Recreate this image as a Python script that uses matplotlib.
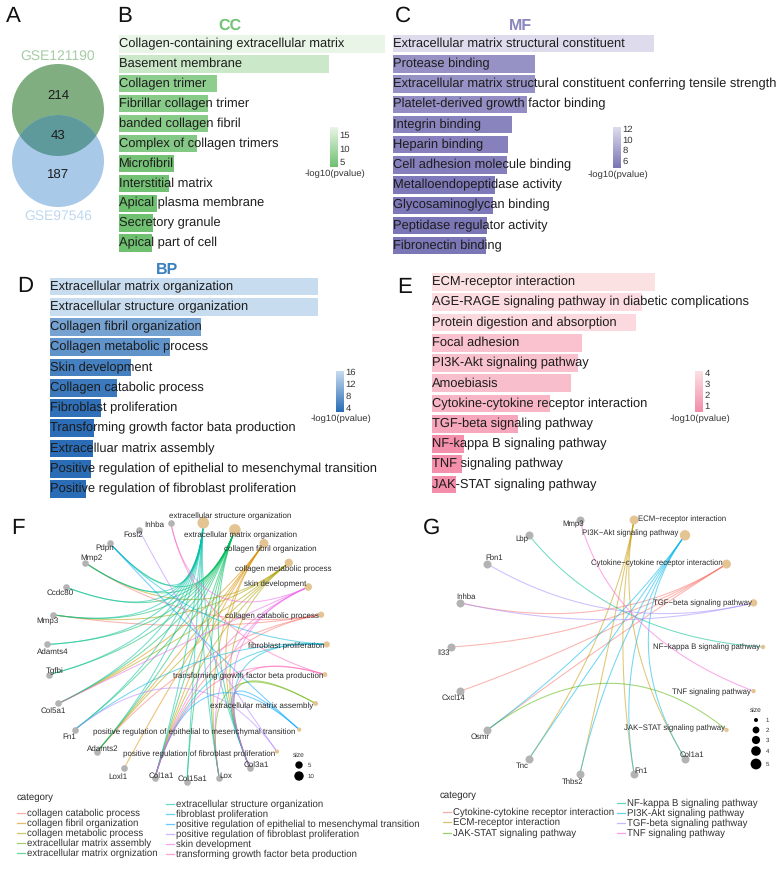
"""
Enrichment summary figure: venn, GO/KEGG bars and gene-term circular networks
"""

import numpy as np
import matplotlib
matplotlib.use('Agg')
import matplotlib.pyplot as plt
from matplotlib.colors import LinearSegmentedColormap, Normalize
from matplotlib.patches import Circle

plt.rcParams['font.family'] = ['Liberation Sans', 'DejaVu Sans']
plt.rcParams['text.hinting'] = 'no_hinting'

W, H = 782, 873

# Venn counts
VENN_NAMES = ['GSE121190', 'GSE97546']
VENN_COUNTS = [214, 43, 187]

# Bar panels
CC_TERMS = ['Collagen-containing extracellular matrix', 'Basement membrane', 'Collagen trimer',
            'Fibrillar collagen trimer', 'banded collagen fibril', 'Complex of collagen trimers',
            'Microfibril', 'Interstitial matrix', 'Apical plasma membrane', 'Secretory granule',
            'Apical part of cell']
CC_VALUES = [18.0, 14.2, 6.6, 6.0, 6.0, 5.3, 3.7, 3.4, 2.6, 2.3, 2.2]

MF_TERMS = ['Extracellular matrix structural constituent', 'Protease binding',
            'Extracellular matrix structural constituent conferring tensile strength',
            'Platelet-derived growth factor binding', 'Integrin binding', 'Heparin binding',
            'Cell adhesion molecule binding', 'Metalloendopeptidase activity',
            'Glycosaminoglycan binding', 'Peptidase regulator activity', 'Fibronectin binding']
MF_VALUES = [12.4, 6.75, 6.75, 6.37, 5.67, 5.46, 5.42, 4.87, 4.78, 4.48, 4.43]

BP_TERMS = ['Extracellular matrix organization', 'Extracellular structure organization',
            'Collagen fibril organization', 'Collagen metabolic process', 'Skin development',
            'Collagen catabolic process', 'Fibroblast proliferation',
            'Transforming growth factor bata production', 'Extracelluar matrix assembly',
            'Positive regulation of epithelial to mesenchymal transition',
            'Positive regulation of fibroblast proliferation']
BP_VALUES = [16.3, 16.3, 9.18, 7.28, 4.94, 4.07, 3.08, 2.66, 2.61, 2.51, 2.19]

KEGG_TERMS = ['ECM-receptor interaction', 'AGE-RAGE signaling pathway in diabetic complications',
              'Protein digestion and absorption', 'Focal adhesion', 'PI3K-Akt signaling pathway',
              'Amoebiasis', 'Cytokine-cytokine receptor interaction', 'TGF-beta signaling pathway',
              'NF-kappa B signaling pathway', 'TNF signaling pathway', 'JAK-STAT signaling pathway']
KEGG_VALUES = [4.2, 3.97, 3.85, 2.83, 2.75, 2.62, 2.23, 1.62, 0.61, 0.58, 0.45]

# Network F
F_TERMS = ['extracellular structure organization', 'extracellular matrix organization',
           'collagen fibril organization', 'collagen metabolic process', 'skin development',
           'collagen catabolic process', 'fibroblast proliferation',
           'transforming growth factor beta production', 'extracellular matrix assembly',
           'positive regulation of epithelial to mesenchymal transition',
           'positive regulation of fibroblast proliferation']
F_TERM_SIZES = [13, 13, 9, 8, 7, 5, 5, 3, 3, 2, 2]
F_GENES = ['Col3a1', 'Lox', 'Col15a1', 'Col1a1', 'Loxl1', 'Adamts2', 'Fn1', 'Col5a1', 'Tgfbi',
           'Adamts4', 'Mmp3', 'Ccdc80', 'Mmp2', 'Pdpn', 'Fosl2', 'Inhba']
F_STRUCTURE = ['Pdpn', 'Mmp2', 'Ccdc80', 'Mmp3', 'Adamts4', 'Tgfbi', 'Col5a1', 'Fn1', 'Adamts2',
               'Col1a1', 'Col15a1', 'Lox', 'Col3a1']
F_MATRIX = F_STRUCTURE
F_FIBRIL = ['Col5a1', 'Adamts2', 'Loxl1', 'Col1a1', 'Lox', 'Col3a1']
F_METABOLIC = ['Mmp2', 'Mmp3', 'Col5a1', 'Adamts2', 'Col1a1', 'Col3a1']
F_SKIN = ['Inhba', 'Col5a1', 'Col1a1', 'Lox', 'Col3a1']
F_CATABOLIC = ['Mmp2', 'Mmp3', 'Adamts2', 'Col1a1']
F_FIBROBLAST = ['Pdpn', 'Fn1', 'Col1a1', 'Col3a1']
F_TGFB = ['Inhba', 'Col1a1', 'Col3a1']
F_ASSEMBLY = ['Lox', 'Col3a1']
F_EMT = ['Pdpn', 'Col1a1', 'Col3a1']
F_POSFIB = ['Fosl2', 'Fn1']
F_LEGEND = ['collagen catabolic process', 'collagen fibril organization', 'collagen metabolic process',
            'extracellular matrix assembly', 'extracellular matrix orgnization',
            'extracellular structure organization', 'fibroblast proliferation',
            'positive regulation of epithelial to mesenchymal transition',
            'positive regulation of fibroblast proliferation', 'skin development',
            'transforming growth factor beta production']

# Network G
G_TERMS = ['ECM\u2212receptor interaction', 'PI3K\u2212Akt signaling pathway',
           'Cytokine\u2212cytokine receptor interaction', 'TGF\u2212beta signaling pathway',
           'NF\u2212kappa B signaling pathway', 'TNF signaling pathway', 'JAK\u2212STAT signaling pathway']
G_TERM_SIZES = [4, 5, 4, 3, 1, 1, 1]
G_GENES = ['Col1a1', 'Fn1', 'Thbs2', 'Tnc', 'Osmr', 'Cxcl14', 'Il33', 'Inhba', 'Fbn1', 'Lbp', 'Mmp3']
G_ECM = ['Tnc', 'Thbs2', 'Fn1', 'Col1a1']
G_PI3K = ['Osmr', 'Tnc', 'Thbs2', 'Fn1', 'Col1a1']
G_CYTOKINE = ['Inhba', 'Il33', 'Cxcl14', 'Osmr']
G_TGF = ['Inhba', 'Fbn1']
G_NFKB = ['Lbp']
G_TNF = ['Mmp3']
G_JAK = ['Osmr']
G_LEGEND = ['Cytokine-cytokine receptor interaction', 'ECM-receptor interaction',
            'JAK-STAT signaling pathway', 'NF-kappa B signaling pathway', 'PI3K-Akt signaling pathway',
            'TGF-beta signaling pathway', 'TNF signaling pathway']

# ggplot hue palettes, same order as the legends
F_COLORS = ['#F8766D', '#DB8E00', '#AEA200', '#64B200', '#00BD5C', '#00C1A7', '#00BADE',
            '#00A6FF', '#B385FF', '#EF67EB', '#FF63B6']
G_COLORS = ['#F8766D', '#C49A00', '#53B400', '#00C094', '#00B6EB', '#A58AFF', '#FB61D7']

TEXT = '#1c1c1c'
NODE_TERM = '#E5C494'
NODE_GENE = '#B3B3B3'


fig = plt.figure(figsize=(W / 100, H / 100), dpi=100)


def px_axes(x0, y0, x1, y1, **kw):
    """Axes given by pixel corners (y measured from the top of the image)"""
    return fig.add_axes([x0 / W, 1 - y1 / H, (x1 - x0) / W, (y1 - y0) / H], **kw)


# Overlay in image pixels for text and panel letters
page = px_axes(0, 0, W, H, zorder=10)
page.set_xlim(0, W)
page.set_ylim(H, 0)
page.axis('off')
page.patch.set_alpha(0)


def draw_venn():
    green = '#80AE80'
    blue = '#A9C9E8'
    lens = '#5E9A9C'
    page.add_patch(Circle((58, 110), 46, color=green, lw=0, zorder=1))
    page.add_patch(Circle((58, 161), 46, color=blue, lw=0, zorder=2))
    overlap = Circle((58, 110), 46, color=lens, lw=0, zorder=3)
    page.add_patch(overlap)
    overlap.set_clip_path(Circle((58, 161), 46, transform=page.transData))
    page.text(58, 56, VENN_NAMES[0], color='#A6CBA6', fontsize=10.0, ha='center', va='center')
    page.text(58, 216, VENN_NAMES[1], color='#C0D8EE', fontsize=10.0, ha='center', va='center')
    for y, n in zip([96, 136, 175], VENN_COUNTS):
        page.text(58, y, str(n), color=TEXT, fontsize=9.5, ha='center', va='center', zorder=5)


def draw_bars(terms, values, left, right, y0, step, low, high, cb_box, cb_range, cb_ticks):
    """One horizontal bar panel plus its small colourbar"""
    n = len(terms)
    cmap = LinearSegmentedColormap.from_list('bars', [low, high])
    norm = Normalize(*cb_range)

    ax = px_axes(left, y0 - step / 2, right, y0 + (n - 0.5) * step)
    ax.set_xlim(0, max(values))
    ax.set_ylim(n - 0.5, -0.5)
    ax.axis('off')
    ax.barh(range(n), values, height=0.87, color=cmap(norm(values)))
    for i, term in enumerate(terms):
        ax.text(0, i, term, fontsize=9.25, color=TEXT, va='center', ha='left', clip_on=False)

    x0, y_top, x1, y_bot = cb_box
    cb = px_axes(x0, y_top, x1, y_bot)
    cb.imshow(np.linspace(1, 0, 64)[:, None], cmap=cmap, aspect='auto',
              extent=[0, 1, cb_range[0], cb_range[1]])
    cb.set_xticks([])
    cb.yaxis.tick_right()
    cb.set_yticks(cb_ticks)
    cb.tick_params(axis='y', length=0, pad=1, labelsize=6.8, labelcolor='#333333')
    for s in cb.spines.values():
        s.set_visible(False)
    page.text((x0 + x1) / 2 + 0.5, y_bot + 7, '-log10(pvalue)', fontsize=6.8, color='#333333',
              ha='center', va='center')


def draw_network(terms, term_sizes, genes, edges, colors, box, ctrl, radius, gene_r, line_w):
    """Circular gene-term network, every edge a quadratic curve bent towards ctrl"""
    cx, cy, rx, ry = box
    ax = px_axes(cx - 1.25 * rx, cy - 1.25 * ry, cx + 1.25 * rx, cy + 1.25 * ry)
    ax.set_xlim(-1.25, 1.25)
    ax.set_ylim(-1.25, 1.25)
    ax.axis('off')

    nodes = terms + genes
    start = 90 - 180 / len(nodes)
    angles = np.deg2rad(start - np.arange(len(nodes)) * 360 / len(nodes))
    pos = {name: (np.cos(a), np.sin(a)) for name, a in zip(nodes, angles)}

    t = np.linspace(0, 1, 60)
    for term, legend_i, members in edges:
        p1 = pos[term]
        for gene in members:
            p0 = pos[gene]
            xs = (1 - t) ** 2 * p0[0] + 2 * t * (1 - t) * ctrl[0] + t ** 2 * p1[0]
            ys = (1 - t) ** 2 * p0[1] + 2 * t * (1 - t) * ctrl[1] + t ** 2 * p1[1]
            ax.plot(xs, ys, color=colors[legend_i], lw=line_w, alpha=0.55, solid_capstyle='round', zorder=1)

    sizes = [radius(s) for s in term_sizes]
    ax.scatter([pos[k][0] for k in terms], [pos[k][1] for k in terms],
               s=[(2 * r * 0.72) ** 2 for r in sizes], color=NODE_TERM, lw=0, zorder=2)
    ax.scatter([pos[k][0] for k in genes], [pos[k][1] for k in genes],
               s=(2 * gene_r * 0.72) ** 2, color=NODE_GENE, lw=0, zorder=2)


def put_labels(names, centers, size):
    for name, (x, y) in zip(names, centers):
        page.text(x, y, name, fontsize=size, color='#2a2a2a', ha='center', va='center')


def put_legend(title_xy, names, colors, columns, size):
    page.text(title_xy[0], title_xy[1], 'category', fontsize=size, color='#2a2a2a', va='center')
    i = 0
    for x_line, y_rows in columns:
        for y in y_rows:
            page.plot([x_line, x_line + 7.5], [y, y], color=colors[i], lw=0.9, alpha=0.6)
            page.text(x_line + 10, y, names[i], fontsize=size, color='#333333', va='center')
            i += 1


def put_size_legend(x, title_y, rows, labels, label_x):
    page.text(x, title_y, 'size', fontsize=4.8, color='#333333', ha='center', va='center')
    for (y, r), lab in zip(rows, labels):
        page.add_patch(Circle((x, y), r, color='black', lw=0))
        page.text(label_x, y, lab, fontsize=4.4, color='#333333', ha='left', va='center')


if __name__ == "__main__":
    draw_venn()

    # Bar panels
    draw_bars(CC_TERMS, CC_VALUES, 119, 385, 44, 19.9, '#70C072', '#E9F5E6',
              (330, 127, 338, 167), (3, 18), [5, 10, 15])
    draw_bars(MF_TERMS, MF_VALUES, 392.7, 653.7, 43.7, 20.2, '#7B76B6', '#DEDCEC',
              (613, 127, 621, 168), (4.6, 12.4), [6, 8, 10, 12])
    draw_bars(BP_TERMS, BP_VALUES, 50, 318.3, 286.5, 20.25, '#2A6DB6', '#C8DCF0',
              (336, 371, 344, 412), (2.6, 16.3), [4, 8, 12, 16])
    draw_bars(KEGG_TERMS, KEGG_VALUES, 431.7, 654.7, 282, 20.25, '#F48DA9', '#FCE1E3',
              (695, 371, 703, 412), (0.45, 4.2), [1, 2, 3, 4])

    page.text(230, 26, 'CC', color='#74C476', fontsize=11.5, fontweight='bold', ha='center', va='center')
    page.text(520, 26, 'MF', color='#8A86BE', fontsize=11.5, fontweight='bold', ha='center', va='center')
    page.text(167, 270, 'BP', color='#3A80BC', fontsize=11.5, fontweight='bold', ha='center', va='center')

    # Network F
    f_edges = [(F_TERMS[5], 0, F_CATABOLIC), (F_TERMS[2], 1, F_FIBRIL), (F_TERMS[3], 2, F_METABOLIC),
               (F_TERMS[8], 3, F_ASSEMBLY), (F_TERMS[1], 4, F_MATRIX), (F_TERMS[0], 5, F_STRUCTURE),
               (F_TERMS[6], 6, F_FIBROBLAST), (F_TERMS[9], 7, F_EMT), (F_TERMS[10], 8, F_POSFIB),
               (F_TERMS[4], 9, F_SKIN), (F_TERMS[7], 10, F_TGFB)]
    draw_network(F_TERMS, F_TERM_SIZES, F_GENES, f_edges, F_COLORS,
                 (187, 652, 140, 130), (0.06, 0.12), lambda s: 2.1 + (s - 2) * 0.336, 3.3, 0.75)
    put_labels(F_TERMS, [(229.7, 516), (241, 535), (270, 549), (283.3, 569), (275, 584), (272, 616),
                         (286, 646), (248, 676), (262, 706), (194, 732), (199.5, 754)], 5.75)
    put_labels(F_GENES, [(256, 765), (226, 776), (193, 779), (161, 776), (118, 777), (103, 749),
                         (69, 737), (53, 711), (55, 671), (53, 652), (47, 621), (60, 593),
                         (91, 558), (105, 548), (133, 535), (154, 525)], 5.75)
    put_legend((17, 797), F_LEGEND, F_COLORS,
               [(17, [813, 823, 833, 843, 853]), (166, [804, 814, 824, 834, 844, 854])], 6.95)
    put_size_legend(299, 755, [(765, 3.7), (776, 4.7)], ['5', '10'], 308)

    # Network G
    g_edges = [(G_TERMS[2], 0, G_CYTOKINE), (G_TERMS[0], 1, G_ECM), (G_TERMS[6], 2, G_JAK),
               (G_TERMS[4], 3, G_NFKB), (G_TERMS[1], 4, G_PI3K), (G_TERMS[3], 5, G_TGF), (G_TERMS[5], 6, G_TNF)]
    draw_network(G_TERMS, G_TERM_SIZES, G_GENES, g_edges, G_COLORS,
                 (607, 647, 156, 129), (0.03, 0.08), lambda s: 2.2 + (s - 1) * 0.75, 4.0, 0.75)
    put_labels(G_TERMS, [(682, 519), (630, 533), (657, 563), (702, 603), (707, 647), (711, 692), (674, 728)], 5.6)
    put_labels(G_GENES, [(692, 755), (641, 771), (573, 782), (522, 766), (480, 737), (453, 698),
                         (444, 653), (466, 597), (494, 558), (522, 539), (573, 524)], 5.6)
    put_legend((440, 795), G_LEGEND, G_COLORS,
               [(443, [812, 822, 833]), (617, [803, 813, 823, 833])], 6.95)
    put_size_legend(756, 710, [(720, 2.0), (730, 3.4), (740, 4.1), (751, 4.8), (764, 5.4)],
                    ['1', '2', '3', '4', '5'], 766)

    # Panel letters
    for letter, x, y in [('A', 6, 22), ('B', 117, 22), ('C', 395, 22), ('D', 17, 292), ('E', 397, 293),
                         ('F', 11, 534), ('G', 423, 534)]:
        page.text(x, y, letter, fontsize=16, color='#111111', ha='left', va='baseline')

    fig.savefig('out.png', dpi=100)
